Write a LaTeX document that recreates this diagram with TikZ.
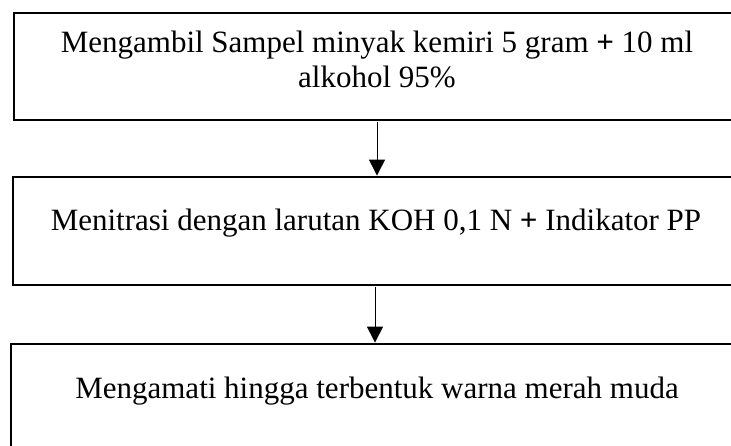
\documentclass[tikz,border=0pt]{standalone}
\usepackage{fontspec}
\setmainfont{Liberation Serif}
\usetikzlibrary{arrows.meta}
\begin{document}
\begin{tikzpicture}[x=1pt,y=-1pt,
  box/.style={draw=black, line width=2.8pt, rectangle, anchor=north west, inner sep=0pt, outer sep=0pt},
  txt/.style={anchor=base, inner sep=0pt, align=center, font=\fontsize{31}{35}\selectfont},
  flow/.style={line width=1pt, -{Triangle[width=16pt,length=16pt]}}]
\useasboundingbox (0,0) rectangle (731,446);
\fill[white] (0,0) rectangle (731,446);
\node[box, minimum width=740pt, minimum height=107pt] (b1) at (14,13) {};
\node[box, minimum width=740pt, minimum height=108pt] (b2) at (13,177) {};
\node[box, minimum width=740pt, minimum height=120pt] (b3) at (11,344) {};
\node[txt] (t1) at (377,88) {Mengambil Sampel minyak kemiri 5 gram \textbf{+} 10 ml\\alkohol 95\%};
\node[txt] (t2) at (376,231) {Menitrasi dengan larutan KOH 0,1 N \textbf{+} Indikator PP};
\node[txt] (t3) at (377,398) {Mengamati hingga terbentuk warna merah muda};
\coordinate (a1s) at (377,122);
\coordinate (a1e) at (377,175.6);
\coordinate (a2s) at (375,287);
\coordinate (a2e) at (375,342.6);
\draw[flow] (a1s) -- (a1e);
\draw[flow] (a2s) -- (a2e);
\end{tikzpicture}
\end{document}
